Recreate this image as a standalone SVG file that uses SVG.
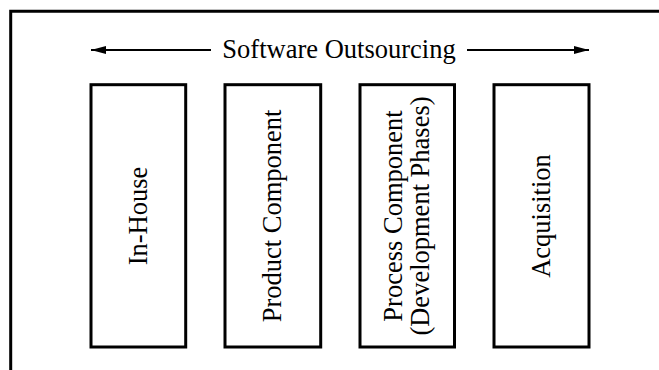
<svg xmlns="http://www.w3.org/2000/svg" width="659" height="370" viewBox="0 0 659 370">
<style>
.box{fill:#fff;stroke:#000;stroke-width:3}
.lbl{font-family:"Liberation Serif","Times New Roman",serif;font-size:26.5px;fill:#000}
.ln{stroke:#000;stroke-width:2;fill:none}
</style>
<defs>
<marker id="ah" viewBox="0 0 15 8" refX="15" refY="4" markerWidth="15" markerHeight="8" markerUnits="userSpaceOnUse" orient="auto">
<path d="M0,0 L15,4 L0,8 Z" fill="#000"/>
</marker>
</defs>
<rect width="659" height="370" fill="#fff"/>
<path d="M10.7,370 V11.3 H659" fill="none" stroke="#000" stroke-width="3"/>
<g id="connectors">
<line class="ln" x1="211" y1="50" x2="91" y2="50" marker-end="url(#ah)"/>
<line class="ln" x1="467" y1="50" x2="589" y2="50" marker-end="url(#ah)"/>
</g>
<g id="title">
<text class="lbl" x="339" y="58" text-anchor="middle">Software Outsourcing</text>
</g>
<g id="in-house">
<rect class="box" x="91" y="84.7" width="94.7" height="262.3"/>
<text class="lbl" transform="translate(147,216) rotate(-90)" text-anchor="middle">In-House</text>
</g>
<g id="product-component">
<rect class="box" x="225" y="84.7" width="95.7" height="262.3"/>
<text class="lbl" transform="translate(280.5,216) rotate(-90)" text-anchor="middle">Product Component</text>
</g>
<g id="process-component">
<rect class="box" x="360" y="84.7" width="94.5" height="262.3"/>
<text class="lbl" transform="translate(401.5,216) rotate(-90)" text-anchor="middle">Process Component</text>
<text class="lbl" transform="translate(429,216) rotate(-90)" text-anchor="middle">(Development Phases)</text>
</g>
<g id="acquisition">
<rect class="box" x="494" y="84.7" width="95" height="262.3"/>
<text class="lbl" transform="translate(550,216) rotate(-90)" text-anchor="middle">Acquisition</text>
</g>
</svg>
